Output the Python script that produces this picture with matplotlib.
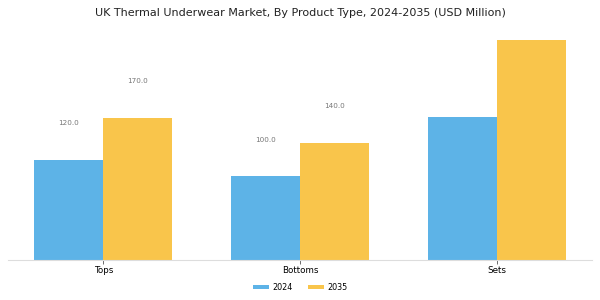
import numpy as np
import matplotlib
matplotlib.use('Agg')
import matplotlib.pyplot as plt

# data
categories = ['Tops', 'Bottoms', 'Sets']
years = ['2024', '2035']
values_2024 = [120.0, 100.0, 170.5]
values_2035 = [170.0, 140.0, 263.0]
# only these bars carry a value label in the reference
labelled = [0, 1]

blue = '#5DB3E7'
yellow = '#F9C54B'

fig = plt.figure(figsize=(6, 3), dpi=100)
ax = fig.add_axes([0.013, 0.133, 0.974, 0.77])

x = np.arange(len(categories))
w = 0.35
ax.bar(x - w / 2, values_2024, w, color=blue, label=years[0])
ax.bar(x + w / 2, values_2035, w, color=yellow, label=years[1])

# value labels sit well above the bar tops
for i in labelled:
    ax.text(x[i] - w / 2, values_2024[i] + 44, f'{values_2024[i]:.1f}',
            ha='center', va='center', fontsize=5.2, color='#777777')
    ax.text(x[i] + w / 2, values_2035[i] + 44, f'{values_2035[i]:.1f}',
            ha='center', va='center', fontsize=5.2, color='#777777')

ax.set_xticks(x)
ax.set_xticklabels(categories, fontsize=6.3)
ax.set_yticks([])
for s in ['top', 'right', 'left']:
    ax.spines[s].set_visible(False)
ax.spines['bottom'].set_color('#dddddd')
ax.spines['bottom'].set_linewidth(0.8)
ax.tick_params(axis='x', length=3, width=0.6, color='#555555', pad=1.2)

fig.suptitle('UK Thermal Underwear Market, By Product Type, 2024-2035 (USD Million)',
             fontsize=8, y=0.972, color='#222222')

fig.legend(loc='lower center', ncol=2, frameon=False, fontsize=5.8,
           bbox_to_anchor=(0.5, 0.003), handlelength=2.0, handleheight=0.5,
           handletextpad=0.4, columnspacing=1.9)

fig.savefig('out.png', dpi=100)
